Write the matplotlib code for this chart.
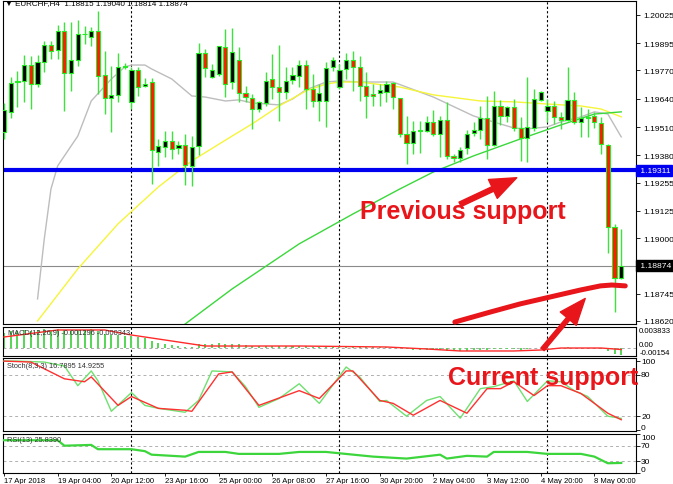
import matplotlib
matplotlib.use("Agg")
import matplotlib.pyplot as plt
from matplotlib.patches import FancyArrowPatch
import numpy as np

# ---------------- data (EURCHF H4) ----------------
opens = [1.19489,1.19581,1.19717,1.19723,1.19795,1.19708,1.19808,1.19889,1.19866,1.19950,
         1.19759,1.19820,1.19936,1.19923,1.19950,1.19750,1.19643,1.19658,1.19786,1.19624,
         1.19774,1.19698,1.19716,1.19397,1.19418,1.19448,1.19413,1.19428,1.19333,1.19422,
         1.19851,1.19739,1.19754,1.19877,1.19716,1.19820,1.19667,1.19643,1.19593,1.19621,
         1.19731,1.19693,1.19673,1.19728,1.19744,1.19795,1.19685,1.19632,1.19632,1.19785,
         1.19693,1.19777,1.19820,1.19785,1.19698,1.19662,1.19667,1.19673,1.19713,1.19643,
         1.19479,1.19437,1.19494,1.19494,1.19535,1.19479,1.19544,1.19376,1.19367,1.19413,
         1.19483,1.19498,1.19551,1.19428,1.19606,1.19560,1.19601,1.19505,1.19459,1.19505,
         1.19636,1.19586,1.19606,1.19555,1.19544,1.19636,1.19532,1.19551,1.19560,1.19529,
         1.19429,1.19053,1.18815]
highs = [1.19621,1.19739,1.19768,1.19841,1.19838,1.19841,1.19907,1.19907,1.19979,1.19992,
         1.19994,1.20002,1.19976,1.19969,1.20045,1.19861,1.19792,1.19851,1.19805,1.19785,
         1.19785,1.19734,1.19734,1.19456,1.19494,1.19494,1.19448,1.19479,1.19468,1.19895,
         1.19869,1.19800,1.19884,1.19961,1.19964,1.19877,1.19700,1.19662,1.19632,1.19762,
         1.19846,1.19889,1.19785,1.19785,1.19820,1.19820,1.19754,1.19708,1.19808,1.19831,
         1.19800,1.19851,1.19861,1.19835,1.19765,1.19708,1.19708,1.19723,1.19719,1.19643,
         1.19560,1.19540,1.19540,1.19560,1.19590,1.19563,1.19624,1.19387,1.19418,1.19498,
         1.19532,1.19609,1.19654,1.19677,1.19636,1.19609,1.19639,1.19555,1.19739,1.19685,
         1.19677,1.19639,1.19632,1.19578,1.19785,1.19670,1.19601,1.19593,1.19578,1.19557,
         1.19433,1.19065,1.19040]
lows = [1.19456,1.19551,1.19603,1.19624,1.19593,1.19693,1.19762,1.19823,1.19823,1.19586,
        1.19677,1.19792,1.19892,1.19884,1.19662,1.19570,1.19486,1.19624,1.19777,1.19593,
        1.19654,1.19693,1.19249,1.19333,1.19372,1.19364,1.19387,1.19244,1.19241,1.19382,
        1.19739,1.19734,1.19746,1.19647,1.19685,1.19624,1.19624,1.19502,1.19578,1.19609,
        1.19639,1.19540,1.19639,1.19708,1.19693,1.19593,1.19601,1.19540,1.19509,1.19769,
        1.19685,1.19731,1.19677,1.19632,1.19551,1.19609,1.19609,1.19624,1.19593,1.19463,
        1.19341,1.19387,1.19391,1.19486,1.19468,1.19372,1.19364,1.19349,1.19349,1.19387,
        1.19471,1.19456,1.19364,1.19425,1.19520,1.19535,1.19494,1.19356,1.19349,1.19494,
        1.19632,1.19532,1.19525,1.19502,1.19540,1.19525,1.19463,1.19463,1.19505,1.19387,
        1.18931,1.18660,1.18814]
closes = [1.19590,1.19711,1.19722,1.19795,1.19708,1.19808,1.19887,1.19861,1.19953,1.19759,
          1.19820,1.19938,1.19938,1.19953,1.19746,1.19643,1.19658,1.19785,1.19791,1.19774,
          1.19693,1.19708,1.19405,1.19422,1.19448,1.19410,1.19428,1.19336,1.19418,1.19851,
          1.19780,1.19774,1.19881,1.19708,1.19854,1.19667,1.19647,1.19593,1.19624,1.19723,
          1.19693,1.19673,1.19723,1.19750,1.19795,1.19685,1.19632,1.19667,1.19780,1.19820,
          1.19774,1.19820,1.19785,1.19698,1.19652,1.19654,1.19682,1.19708,1.19647,1.19479,
          1.19437,1.19494,1.19498,1.19535,1.19479,1.19544,1.19376,1.19370,1.19407,1.19479,
          1.19498,1.19551,1.19428,1.19606,1.19560,1.19601,1.19505,1.19459,1.19509,1.19639,
          1.19670,1.19606,1.19555,1.19544,1.19636,1.19535,1.19551,1.19557,1.19535,1.19433,
          1.19053,1.18816,1.18874]

# moving averages (bar index, price)
ma_gray_bar = [5, 6, 7, 8, 11, 13, 16, 18, 19, 21, 22, 25, 28, 30, 33, 35, 37, 41, 43, 45,
               48, 50, 53, 58, 64, 70, 76, 78, 81, 83, 86, 88, 90, 92]
ma_gray_val = [1.18721, 1.18996, 1.19226, 1.19332, 1.19469, 1.19630, 1.19731, 1.19786, 1.19795,
               1.19795, 1.19777, 1.19731, 1.19653, 1.19648, 1.19630, 1.19635, 1.19621, 1.19612,
               1.19639, 1.19681, 1.19717, 1.19722, 1.19717, 1.19717, 1.19648, 1.19561, 1.19506,
               1.19502, 1.19511, 1.19534, 1.19557, 1.19580, 1.19570, 1.19465]
ma_yellow_bar = [5, 11, 17, 23, 28, 34, 37, 41, 45, 48, 50, 53, 59, 64, 71, 76, 81, 86, 89, 92]
ma_yellow_val = [1.18620, 1.18859, 1.19066, 1.19235, 1.19355, 1.19469, 1.19525, 1.19607, 1.19676,
                 1.19708, 1.19717, 1.19717, 1.19694, 1.19658, 1.19630, 1.19626, 1.19616, 1.19607,
                 1.19593, 1.19557]
ma_green_bar = [27, 34, 44, 52, 59, 64, 70, 77, 83, 88, 92]
ma_green_val = [1.18606, 1.18767, 1.18974, 1.19111, 1.19226, 1.19304, 1.19378, 1.19456, 1.19520,
                1.19570, 1.19580]

support_level = 1.19311
last_price = 1.18874

# MACD(12,26,9): histogram per bar and signal line points
macd_hist = [0.0028,0.0030,0.0031,0.0032,0.0031,0.0032,0.0034,0.0033,0.0035,0.0032,
             0.0031,0.0033,0.0033,0.0034,0.0030,0.0026,0.0023,0.0023,0.0022,0.0021,
             0.0019,0.0018,0.0012,0.0009,0.0007,0.0005,0.0004,0.0002,0.0001,0.0006,
             0.0007,0.0007,0.0008,0.0007,0.0007,0.0006,0.0005,0.0004,0.0004,0.0004,
             0.0004,0.0003,0.0003,0.0003,0.0004,0.0003,0.0002,0.0002,0.0003,0.0004,
             0.0004,0.0004,0.0004,0.0003,0.0002,0.0002,0.0002,0.0002,0.0001,-0.0001,
             -0.0003,-0.0004,-0.0004,-0.0004,-0.0005,-0.0004,-0.0006,-0.0007,-0.0007,-0.0006,
             -0.0005,-0.0004,-0.0005,-0.0003,-0.0002,-0.0002,-0.0003,-0.0004,-0.0003,-0.0001,
             0.0000,0.0000,-0.0001,-0.0001,0.0001,0.0000,0.0000,0.0000,0.0000,-0.0002,
             -0.0007,-0.0011,-0.0013]
macd_sig_bar = [0, 8, 15, 19, 25, 30, 44, 57, 63, 68, 76, 80, 83, 89, 92]
macd_sig_val = [0.00198, 0.00328, 0.00328, 0.00235, 0.00124, 0.00031, 0.00031, 0.00013,
                -0.00024, -0.00061, -0.00061, -0.00043, -0.00006, -0.00006, -0.00034]

# Stochastic(8,3,3)
stoch_main_bar = [0, 2, 6, 9, 11, 13, 14, 16, 19, 21, 23, 27, 29, 31, 34, 36, 38, 41, 44, 47,
                  51, 53, 56, 57, 60, 63, 65, 68, 71, 73, 76, 78, 81, 83, 85, 87, 90, 92]
stoch_main_val = [100, 100, 98.6, 92.9, 64.3, 85.7, 71.4, 27.1, 54.3, 35.7, 31.4, 25.7, 42.9,
                  85.7, 84.3, 62.9, 32.9, 45.7, 67.1, 38.6, 91.4, 77.1, 41.4, 42.9, 20, 42.9,
                  48.6, 17.1, 60, 62.9, 71.4, 41.4, 71.4, 70, 57.1, 48.6, 20, 16.8]
stoch_sig_bar = [0, 4, 9, 12, 13, 17, 19, 23, 27, 28, 32, 34, 38, 44, 47, 51, 52, 56, 58, 61,
                 65, 69, 72, 74, 76, 79, 81, 83, 86, 90, 92]
stoch_sig_val = [100, 98.6, 74.3, 70, 77.1, 35.7, 48.6, 31.4, 28.6, 27.1, 81.4, 84.3, 35.7,
                 57.1, 45.7, 85.7, 85.7, 42.9, 38.6, 21.4, 42.9, 24.3, 60, 60, 70, 50, 64.3,
                 64.3, 52.9, 24.3, 14.9]

# RSI(13)
rsi_bar = [0, 8, 9, 13, 14, 19, 21, 22, 27, 29, 33, 35, 41, 44, 48, 55, 60, 65, 66, 69, 72,
           73, 78, 81, 86, 88, 90, 92]
rsi_val = [84, 84, 70, 72, 61, 61, 56, 47, 42, 54, 54, 49, 49, 54, 54, 42, 37, 47, 37, 44, 42,
           54, 54, 49, 49, 42, 25, 25.8]

price_ticks = [1.20025, 1.19895, 1.19770, 1.19640, 1.19510, 1.19380, 1.19255, 1.19125,
               1.19000, 1.18745, 1.18620]
time_tick_bars = [0, 8, 16, 24, 32, 40, 48, 56, 64, 72, 80, 88]
time_tick_labels = ["17 Apr 2018", "19 Apr 04:00", "20 Apr 12:00", "23 Apr 16:00",
                    "25 Apr 00:00", "26 Apr 08:00", "27 Apr 16:00", "30 Apr 20:00",
                    "2 May 04:00", "3 May 12:00", "4 May 20:00", "8 May 00:00"]
week_sep_bars = [19, 50, 81]

# ---------------- layout ----------------
W, H = 673, 485
plt.rcParams['font.family'] = ['Liberation Sans', 'DejaVu Sans']
fig = plt.figure(figsize=(W / 100, H / 100), dpi=100)
fig.patch.set_facecolor("white")


def rect(x0, y0, x1, y1):
    return [x0 / W, 1 - y1 / H, (x1 - x0) / W, (y1 - y0) / H]


XL = (-0.15, 94.2)
ax = fig.add_axes(rect(3, 2, 636, 325), zorder=5)
axm = fig.add_axes(rect(3, 328, 636, 357), zorder=1)
axs = fig.add_axes(rect(3, 359, 636, 432), zorder=1)
axr = fig.add_axes(rect(3, 435, 636, 474), zorder=1)

LABEL_FS = 6.1
IND_FS = 5.3
for a in (ax, axm, axs, axr):
    a.set_xlim(*XL)
    a.set_facecolor("white")
    for s in a.spines.values():
        s.set_color("black")
        s.set_linewidth(0.8)
    a.yaxis.tick_right()
    a.tick_params(axis="y", direction="out", length=3, width=0.6, labelsize=LABEL_FS, pad=2,
                  colors="black")
    a.tick_params(axis="x", length=0, labelbottom=False)
    for b in week_sep_bars:
        a.axvline(b, color="black", lw=0.8, ls=(0, (2, 2)), zorder=1)

# ---- main price panel ----
ax.set_ylim(1.18606, 1.20089)
ax.set_yticks(price_ticks)
ax.set_yticklabels([f"{v:.5f}" for v in price_ticks])

x = np.arange(len(opens))
o = np.array(opens); h = np.array(highs); l = np.array(lows); c = np.array(closes)
ax.vlines(x, l, h, color="#3de23d", lw=1.0, zorder=3)
bull = c >= o
body_bot = np.minimum(o, c)
body_h = np.maximum(np.abs(c - o), 0.00002)
ax.bar(x[bull], body_h[bull], bottom=body_bot[bull], width=0.62, color="black",
       edgecolor="#22ee22", linewidth=0.8, zorder=4)
ax.bar(x[~bull], body_h[~bull], bottom=body_bot[~bull], width=0.62, color="#ff1a00",
       edgecolor="#22ee22", linewidth=0.8, zorder=4)

ax.plot(ma_gray_bar, ma_gray_val, color="#bdbdbd", lw=1.0, zorder=2)
ax.plot(ma_yellow_bar, ma_yellow_val, color="#f5f53a", lw=1.0, zorder=2)
ax.plot(ma_green_bar, ma_green_val, color="#3ad83a", lw=1.0, zorder=2)

ax.axhline(support_level, color="#0000f0", lw=3.0, zorder=2.5)
ax.axhline(last_price, color="#8a8a8a", lw=0.8, zorder=1.5)

# boxed price labels on the right scale
ax.text(1.003, support_level, f" {support_level:.5f}", transform=ax.get_yaxis_transform(),
        va="center", ha="left", fontsize=LABEL_FS, color="white", clip_on=False,
        bbox=dict(boxstyle="square,pad=0.2", fc="#0000f0", ec="#0000f0"))
ax.text(1.003, last_price, f" {last_price:.5f}", transform=ax.get_yaxis_transform(),
        va="center", ha="left", fontsize=LABEL_FS, color="white", clip_on=False,
        bbox=dict(boxstyle="square,pad=0.2", fc="black", ec="black"))

fig.text(5 / W, 1 - 3.5 / H, "\u25bc EURCHF,H4  1.18815 1.19040 1.18814 1.18874",
         fontsize=5.8, va="center", ha="left", color="black", zorder=20,
         family=['Liberation Sans', 'DejaVu Sans'])

# ---- annotations ----
red = "#e8161b"
ax.text(68.4, 1.19125, "Previous support", color=red, fontsize=18, fontweight="bold",
        ha="center", va="center", zorder=10)
ax.text(80.4, 1.18363, "Current support", color=red, fontsize=18, fontweight="bold",
        ha="center", va="center", zorder=10, clip_on=False)
arr1 = FancyArrowPatch((67.6, 1.19150), (76.8, 1.19283),
                       arrowstyle="simple,head_width=15,head_length=19,tail_width=3.5",
                       color=red, zorder=10, mutation_scale=1)
ax.add_patch(arr1)
arr2 = FancyArrowPatch((80.0, 1.18480), (86.9, 1.18733),
                       arrowstyle="simple,head_width=15,head_length=19,tail_width=3",
                       color=red, zorder=10, mutation_scale=1, clip_on=False)
ax.add_patch(arr2)
curve_bar = [67.2, 72.5, 76.9, 81.4, 85.9, 88.9, 90.6, 92.6]
curve_val = [1.18615, 1.18661, 1.18698, 1.18730, 1.18762, 1.18781, 1.18785, 1.18781]
ax.plot(curve_bar, curve_val, color=red, lw=3.6, solid_capstyle="round", zorder=10,
        clip_on=False)

# ---- MACD panel ----
axm.set_ylim(-0.00154, 0.003833)
axm.set_yticks([])
axm.bar(x, macd_hist, width=0.3, color="#5ad65a", zorder=2)
axm.axhline(0, color="#aaaaaa", lw=0.7, ls=(0, (3, 3)), zorder=1)
axm.plot(macd_sig_bar, macd_sig_val, color="#ff2a2a", lw=1.0, zorder=3)
axm.text(0.6, 0.0029, "MACD(12,26,9) -0.001296 -0.000343", fontsize=IND_FS, va="center",
         color="#333333", zorder=4)
for val, txt, va in [(0.003833, "0.003833", "top"), (0.0, "0.00", "bottom"),
                     (-0.00154, "-0.00154", "bottom")]:
    axm.text(1.005, val, txt, transform=axm.get_yaxis_transform(), fontsize=5.6,
             va=va, ha="left", clip_on=False)

# ---- Stochastic panel ----
axs.set_ylim(-1.5, 104.5)
axs.set_yticks([100, 80, 20, 0])
axs.set_yticklabels([])
for lv in (80, 20):
    axs.axhline(lv, color="#b0b0b0", lw=0.7, ls=(0, (3, 3)), zorder=1)
axs.plot(stoch_main_bar, stoch_main_val, color="#6fe06f", lw=1.0, zorder=3)
axs.plot(stoch_sig_bar, stoch_sig_val, color="#ff3030", lw=1.0, zorder=3)
axs.text(0.4, 93, "Stoch(8,3,3) 16.7895 14.9255", fontsize=IND_FS, va="center",
         color="#333333", zorder=4)
for val, txt, va in [(104.5, "100", "top"), (80, "80", "center"), (20, "20", "center"),
                     (-1.5, "0", "bottom")]:
    axs.text(1.008, val, txt, transform=axs.get_yaxis_transform(), fontsize=LABEL_FS,
             va=va, ha="left", clip_on=False)

# ---- RSI panel ----
axr.set_ylim(0, 100)
axr.set_yticks([100, 70, 30, 0])
axr.set_yticklabels([])
for lv in (70, 30):
    axr.axhline(lv, color="#b0b0b0", lw=0.7, ls=(0, (3, 3)), zorder=1)
axr.plot(rsi_bar, rsi_val, color="#3cd63c", lw=1.6, zorder=3)
axr.text(0.4, 85, "RSI(13) 25.8390", fontsize=IND_FS, va="center", color="#333333", zorder=4)
for val, txt, va in [(100, "100", "top"), (70, "70", "center"), (30, "30", "center"),
                     (0, "0", "bottom")]:
    axr.text(1.008, val, txt, transform=axr.get_yaxis_transform(), fontsize=LABEL_FS,
             va=va, ha="left", clip_on=False)

# time axis
axr.set_xticks(time_tick_bars)
axr.set_xticklabels(time_tick_labels)
axr.tick_params(axis="x", direction="out", length=2.5, width=0.6, labelbottom=True,
                labelsize=5.5, pad=0.5)
for t in axr.get_xticklabels():
    t.set_horizontalalignment("left")

fig.savefig("out.png", dpi=100, facecolor="white")
